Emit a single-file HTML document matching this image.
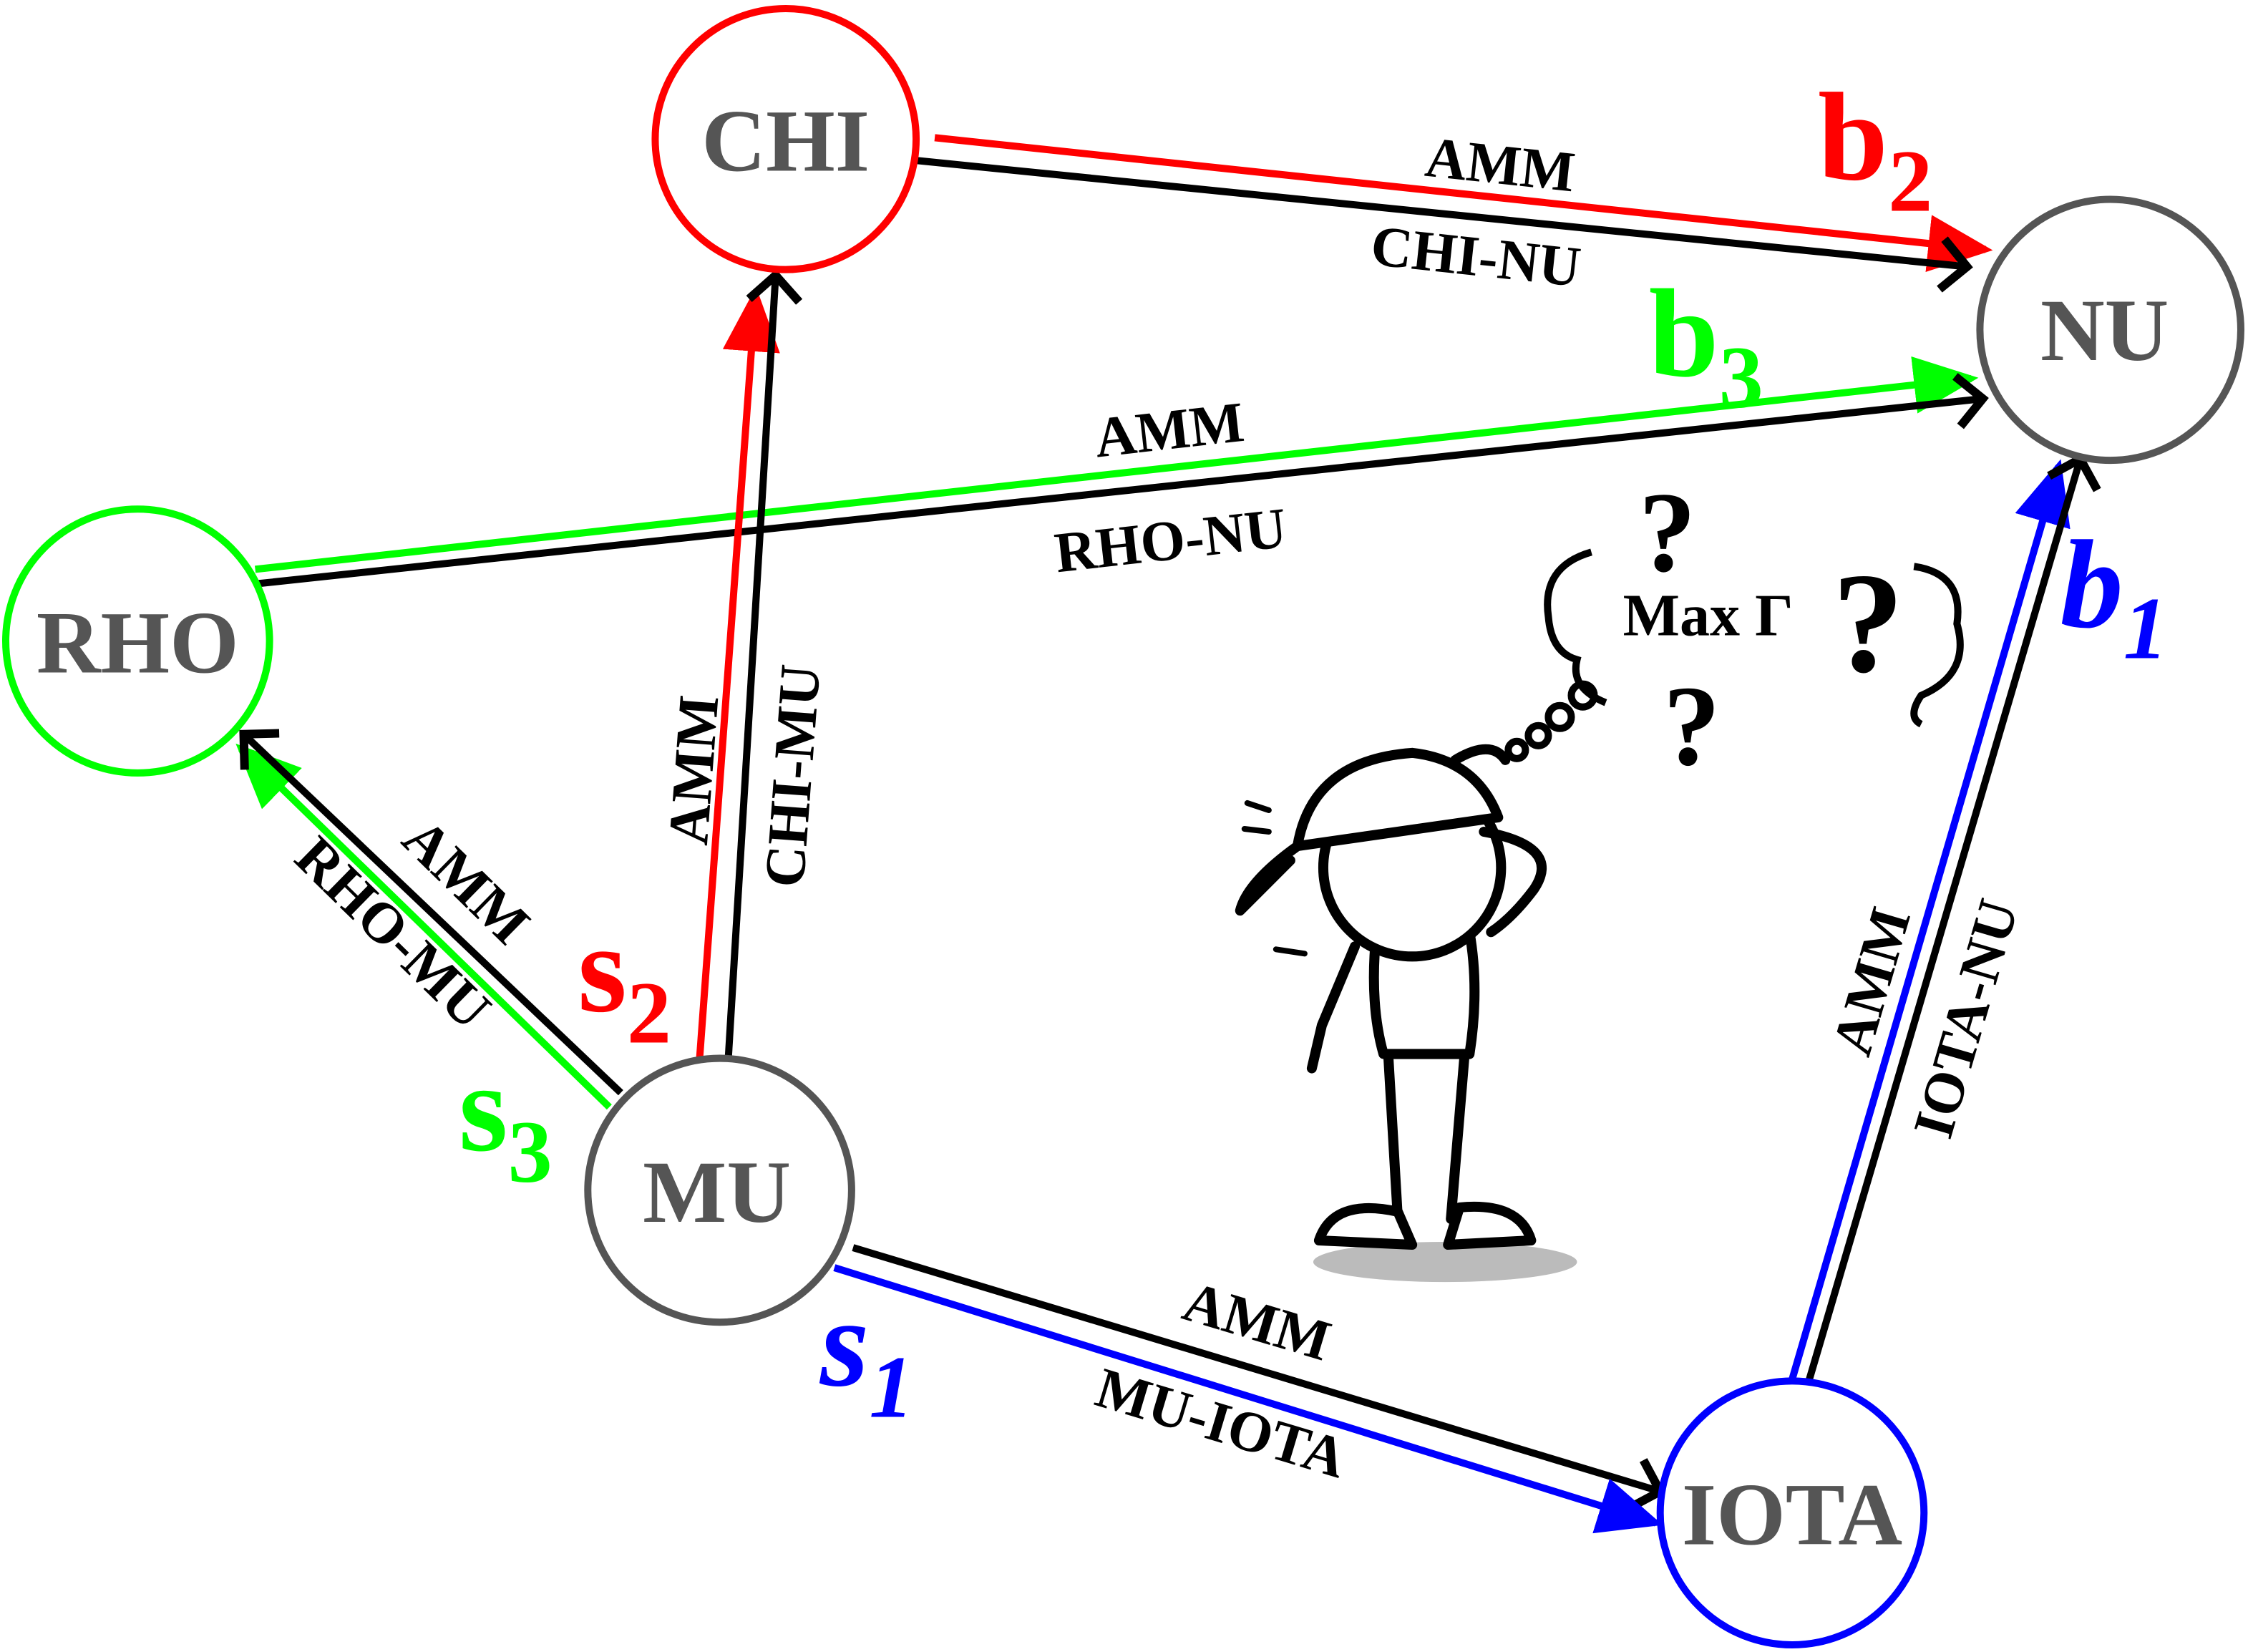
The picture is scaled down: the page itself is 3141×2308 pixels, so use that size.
<!DOCTYPE html>
<html><head><meta charset="utf-8"><style>
html,body{margin:0;padding:0;background:#fff;}
svg{display:block;}
text{font-family:"Liberation Serif",serif;font-weight:bold;}
</style></head><body>
<svg width="3141" height="2308" viewBox="0 0 1568 1152" preserveAspectRatio="none" xmlns="http://www.w3.org/2000/svg">
<defs>
<marker id="ar" markerWidth="10" markerHeight="8" refX="8" refY="4" orient="auto" markerUnits="strokeWidth"><path d="M0,0 L9,4 L0,8 Z" fill="#f00"/></marker>
<marker id="ag" markerWidth="10" markerHeight="8" refX="8" refY="4" orient="auto" markerUnits="strokeWidth"><path d="M0,0 L9,4 L0,8 Z" fill="#0f0"/></marker>
<marker id="ab" markerWidth="10" markerHeight="8" refX="8" refY="4" orient="auto" markerUnits="strokeWidth"><path d="M0,0 L9,4 L0,8 Z" fill="#00f"/></marker>
<marker id="ak" markerWidth="8" markerHeight="10" refX="5" refY="5" orient="auto" markerUnits="strokeWidth"><path d="M1.5,1.5 L5,5 L1.5,8.5" fill="none" stroke="#000" stroke-width="1.2"/></marker>
</defs>

<g stroke-width="5" fill="none">
<line x1="652" y1="96" x2="1385" y2="174" stroke="#f00" marker-end="url(#ar)"/>
<line x1="640" y1="112" x2="1372" y2="186" stroke="#000" marker-end="url(#ak)"/>
<line x1="178" y1="397" x2="1375" y2="264" stroke="#0f0" marker-end="url(#ag)"/>
<line x1="180" y1="407" x2="1383" y2="278" stroke="#000" marker-end="url(#ak)"/>
<line x1="488" y1="738" x2="527" y2="205" stroke="#f00" marker-end="url(#ar)"/>
<line x1="508" y1="738" x2="541" y2="192" stroke="#000" marker-end="url(#ak)"/>
<line x1="425" y1="772" x2="168" y2="522" stroke="#0f0" marker-end="url(#ag)"/>
<line x1="433" y1="762" x2="170" y2="512" stroke="#000" marker-end="url(#ak)"/>
<line x1="595" y1="870" x2="1158" y2="1040" stroke="#000" marker-end="url(#ak)"/>
<line x1="582" y1="884" x2="1155" y2="1062" stroke="#00f" marker-end="url(#ab)"/>
<line x1="1250" y1="962" x2="1436" y2="325" stroke="#00f" marker-end="url(#ab)"/>
<line x1="1262" y1="962" x2="1451" y2="320" stroke="#000" marker-end="url(#ak)"/>
</g>

<g stroke-width="5" fill="#fff">
<circle cx="548" cy="97" r="91" stroke="#f00"/>
<circle cx="1472" cy="230" r="91" stroke="#555"/>
<circle cx="96" cy="447" r="92" stroke="#0f0"/>
<circle cx="502" cy="830" r="92" stroke="#555"/>
<circle cx="1250" cy="1055" r="92" stroke="#00f"/>
</g>
<g fill="#555" font-size="62" text-anchor="middle">
<text x="548" y="119">CHI</text>
<text x="1468" y="251">NU</text>
<text x="96" y="469">RHO</text>
<text x="500" y="852">MU</text>
<text x="1250" y="1077">IOTA</text>
</g>

<g fill="#000" font-size="40" text-anchor="middle">
<text transform="translate(1045,128) rotate(6.1)">AMM</text>
<text transform="translate(1028,192) rotate(6.1)">CHI-NU</text>
<text transform="translate(817,313) rotate(-6.4)">AMM</text>
<text transform="translate(818,390) rotate(-6.4)">RHO-NU</text>
<text transform="translate(497,538) rotate(-85.7)">AMM</text>
<text transform="translate(566,542) rotate(-85.7)">CHI-MU</text>
<text transform="translate(316,624) rotate(44.4)">AMM</text>
<text transform="translate(265,660) rotate(44.4)">RHO-MU</text>
<text transform="translate(873,934) rotate(16.7)">AMM</text>
<text transform="translate(848,1005) rotate(16.7)">MU-IOTA</text>
<text transform="translate(1318,688) rotate(-73.7)">AMM</text>
<text transform="translate(1384,714) rotate(-73.7)">IOTA-NU</text>
</g>

<g font-size="88">
<text x="1268" y="125" fill="#f00">b<tspan font-size="62" dy="22">2</tspan></text>
<text x="1150" y="262" fill="#0f0">b<tspan font-size="62" dy="22">3</tspan></text>
<text x="1437" y="437" fill="#00f" font-style="italic">b<tspan font-size="62" dy="22">1</tspan></text>
<text x="403" y="705" fill="#f00">s<tspan font-size="62" dy="22">2</tspan></text>
<text x="320" y="802" fill="#0f0">s<tspan font-size="62" dy="22">3</tspan></text>
<text x="572" y="966" fill="#00f" font-style="italic">s<tspan font-size="62" dy="22">1</tspan></text>
</g>

<g stroke="#000" stroke-width="7" fill="#fff" stroke-linecap="round" stroke-linejoin="round">
<ellipse cx="1008" cy="880" rx="92" ry="14" fill="#bbb" stroke="none"/>
<path d="M968,730 L975,850 M1022,730 L1012,850" fill="none"/>
<path d="M960,650 Q955,700 965,735 L1025,735 Q1032,690 1025,650 Z"/>
<path d="M945,660 L922,715 L915,745" fill="none"/>
<path d="M920,865 Q930,835 975,845 L985,868 Z"/>
<path d="M1010,868 L1018,842 Q1060,838 1068,865 Z"/>
<ellipse cx="985" cy="605" rx="62" ry="62"/>
<path d="M905,590 Q915,530 985,525 Q1030,530 1045,570 Z" fill="#fff"/>
<path d="M905,590 Q870,615 865,635 L900,600" fill="#000"/>
<path d="M1035,580 Q1090,590 1070,620 Q1055,640 1040,650" fill="none"/>
<path d="M1015,530 Q1040,515 1050,530" fill="none"/>
<path d="M870,560 L885,565 M868,578 L885,580 M890,662 L910,665" fill="none" stroke-width="4"/>
</g>

<g stroke="#000" stroke-width="5" fill="none">
<path d="M1110,385 Q1075,395 1080,430 Q1082,455 1100,460 Q1095,480 1120,490"/>
<path d="M1335,395 Q1370,400 1365,435 Q1375,470 1340,485 Q1330,500 1340,505"/>
<circle cx="1104" cy="485" r="8"/>
<circle cx="1088" cy="500" r="8"/>
<circle cx="1073" cy="513" r="7"/>
<circle cx="1058" cy="523" r="6"/>
</g>
<g fill="#000">
<text x="1132" y="443" font-size="42">Max Γ</text>
<text x="1143" y="398" font-size="80">?</text>
<text x="1278" y="468" font-size="100">?</text>
<text x="1160" y="533" font-size="80">?</text>
</g>
</svg>
</body></html>
